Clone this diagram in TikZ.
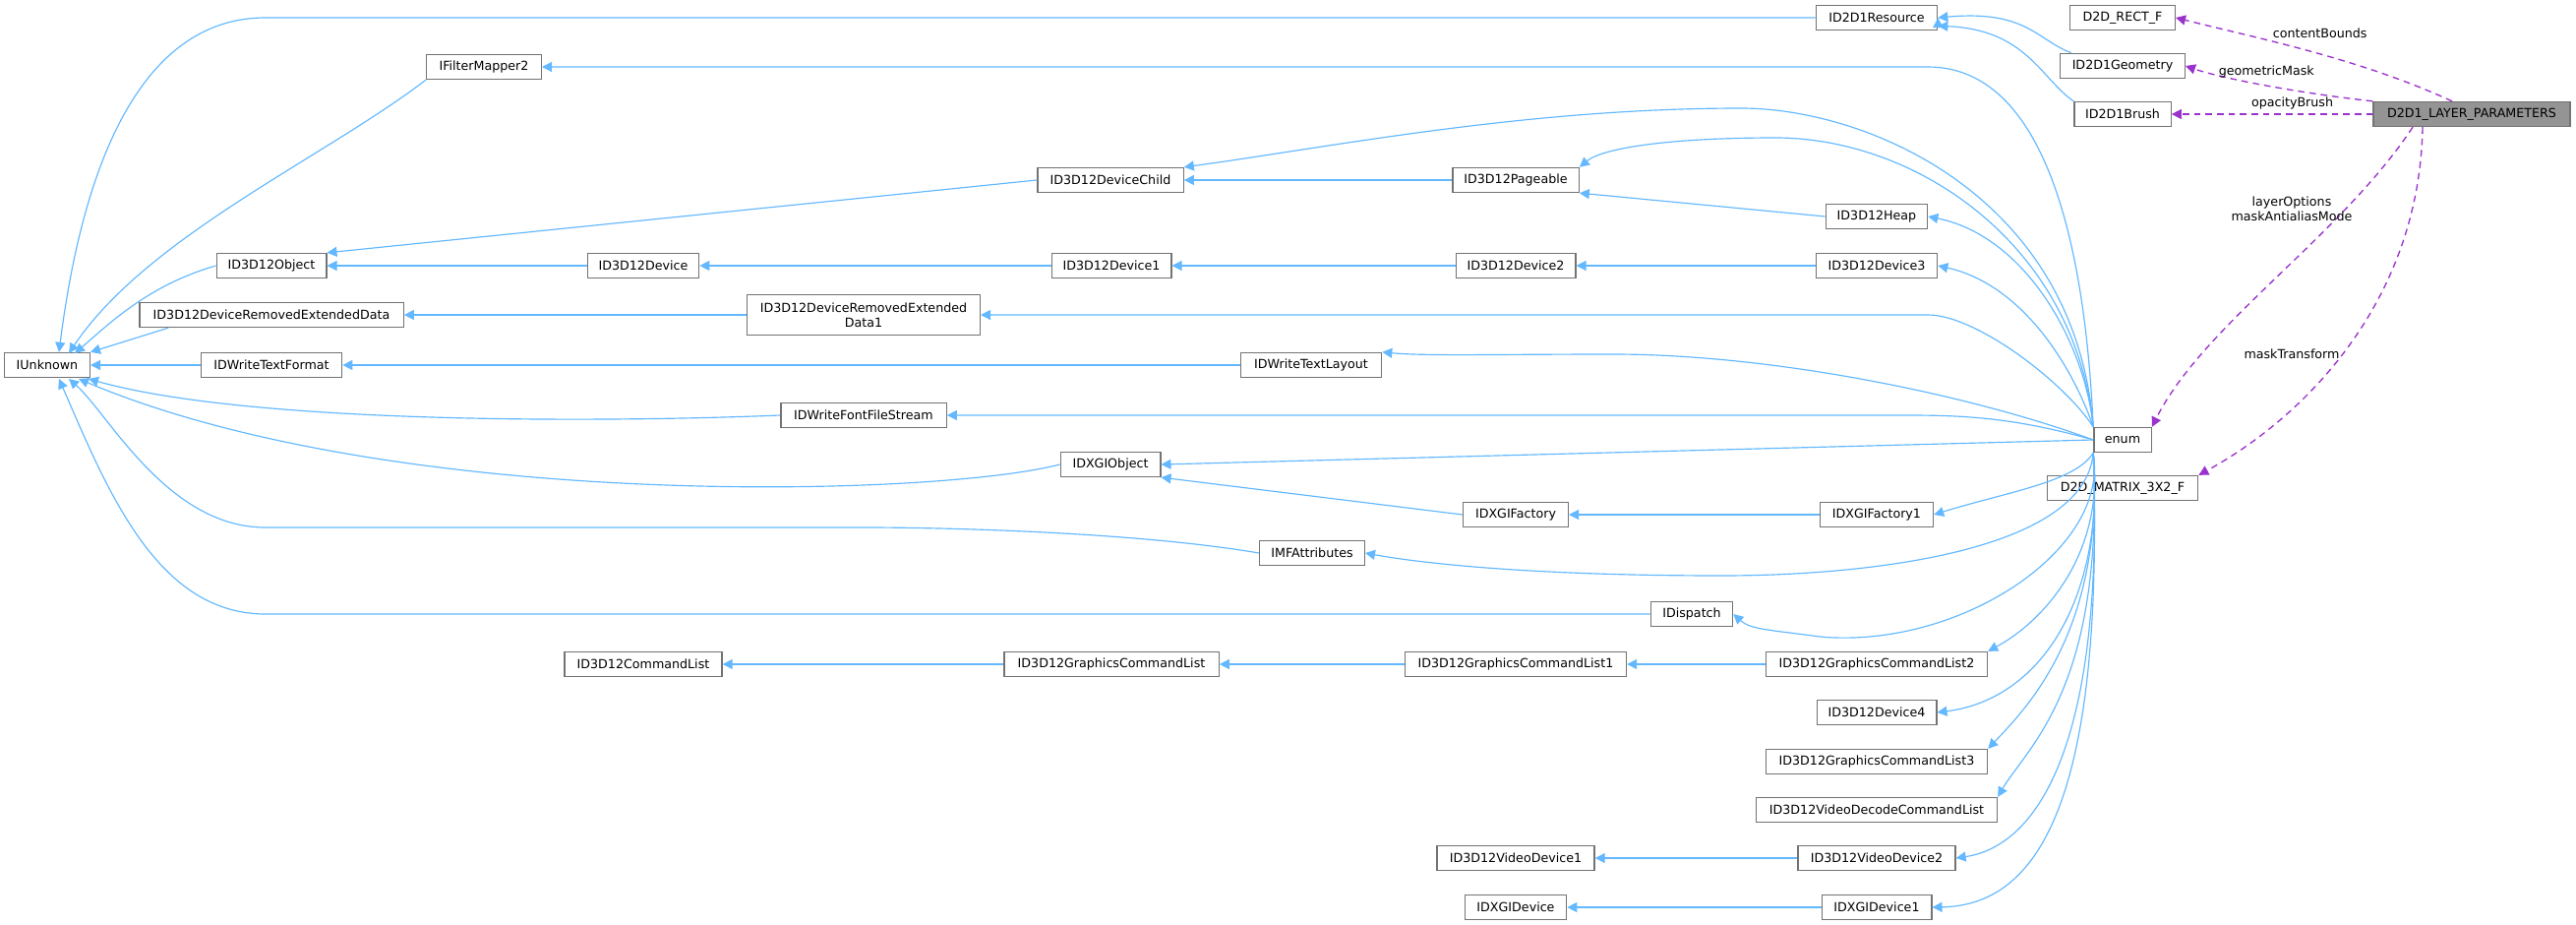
\documentclass[tikz,border=0pt]{standalone}
\usepackage{fontspec}
\setmainfont{DejaVu Sans}
\usetikzlibrary{arrows.meta}
\definecolor{inh}{HTML}{63B8FF}
\definecolor{usg}{HTML}{9A32CD}
\begin{document}
\begin{tikzpicture}[x=0.6pt,y=-0.6pt,
  box/.style={draw=black!55,line width=0.8pt,fill=white,minimum height=15pt,inner sep=1pt,font=\fontsize{7.6}{9}\selectfont,align=center},
  e/.style={draw=inh,line width=0.7pt,-{Triangle[length=6pt,width=6pt]}},
  u/.style={draw=usg,line width=0.8pt,dash pattern=on 4pt off 3pt,-{Triangle[length=6pt,width=6pt]}},
  lab/.style={font=\fontsize{7.6}{9}\selectfont,align=center}]
\useasboundingbox (0,0) rectangle (2619,940);
% nodes
\node[box,minimum width=52pt] (iunk) at (48,371) {IUnknown};
\node[box,minimum width=70pt] (ifm) at (492,68) {IFilterMapper2};
\node[box,minimum width=89pt] (dchild) at (1129,183) {ID3D12DeviceChild};
\node[box,minimum width=67pt] (obj) at (276,270) {ID3D12Object};
\node[box,minimum width=68pt] (dev) at (654,270) {ID3D12Device};
\node[box,minimum width=73pt] (dev1) at (1130,270) {ID3D12Device1};
\node[box,minimum width=161pt] (dred) at (276,320) {ID3D12DeviceRemovedExtendedData};
\node[box,minimum width=142pt,minimum height=24.5pt] (dred1) at (878,320) {ID3D12DeviceRemovedExtended\\Data1};
\node[box,minimum width=86pt] (wtf) at (276,371) {IDWriteTextFormat};
\node[box,minimum width=86pt] (wtl) at (1333,371) {IDWriteTextLayout};
\node[box,minimum width=101pt] (wffs) at (878,422) {IDWriteFontFileStream};
\node[box,minimum width=61pt] (dxo) at (1129,472) {IDXGIObject};
\node[box,minimum width=64pt] (mfa) at (1334,562) {IMFAttributes};
\node[box,minimum width=50pt] (disp) at (1720,624) {IDispatch};
\node[box,minimum width=64pt] (dxf) at (1541,523) {IDXGIFactory};
\node[box,minimum width=69pt] (dxf1) at (1908,523) {IDXGIFactory1};
\node[box,minimum width=96pt] (cl) at (654,675) {ID3D12CommandList};
\node[box,minimum width=131pt] (gcl) at (1130,675) {ID3D12GraphicsCommandList};
\node[box,minimum width=135pt] (gcl1) at (1541,675) {ID3D12GraphicsCommandList1};
\node[box,minimum width=135pt] (gcl2) at (1908,675) {ID3D12GraphicsCommandList2};
\node[box,minimum width=73pt] (dev4) at (1908,724) {ID3D12Device4};
\node[box,minimum width=135pt] (gcl3) at (1908,774) {ID3D12GraphicsCommandList3};
\node[box,minimum width=147pt] (vdcl) at (1908,823) {ID3D12VideoDecodeCommandList};
\node[box,minimum width=96pt] (vd1) at (1541,872) {ID3D12VideoDevice1};
\node[box,minimum width=96pt] (vd2) at (1908,872) {ID3D12VideoDevice2};
\node[box,minimum width=62pt] (dxd) at (1541,922) {IDXGIDevice};
\node[box,minimum width=67pt] (dxd1) at (1908,922) {IDXGIDevice1};
\node[box,minimum width=92pt] (mat) at (2158,496) {D2D\_MATRIX\_3X2\_F};
\node[box,minimum width=35pt] (enum) at (2158,447) {enum};
\node[box,minimum width=74pt] (res) at (1908,18) {ID2D1Resource};
\node[box,minimum width=64pt] (rect) at (2158,18) {D2D\_RECT\_F};
\node[box,minimum width=76pt] (geo) at (2158,67) {ID2D1Geometry};
\node[box,minimum width=59pt] (brush) at (2158,116) {ID2D1Brush};
\node[box,minimum width=120pt,fill=black!42] (lp) at (2513,116) {D2D1\_LAYER\_PARAMETERS};
\node[box,minimum width=77pt] (page) at (1541,183) {ID3D12Pageable};
\node[box,minimum width=62pt] (heap) at (1908,220) {ID3D12Heap};
\node[box,minimum width=73pt] (dev2) at (1541,270) {ID3D12Device2};
\node[box,minimum width=74pt] (dev3) at (1908,270) {ID3D12Device3};
% inheritance to IUnknown
\draw[e] (res.west) -- (270,18) .. controls (130,18) and (80,200) .. (iunk.north west -| 60,0) ;
\draw[e] (ifm.south west) .. controls (330,160) and (150,240) .. (70,359);
\draw[e] (obj.west) .. controls (150,290) and (110,330) .. (76,359);
\draw[e] (dred.south west) ++(30,0) -- (iunk.north east);
\draw[e] (wtf) -- (iunk);
\draw[e] (wffs.west) .. controls (600,430) and (250,430) .. (90,385);
\draw[e] (dxo.west) .. controls (950,505) and (400,520) .. (80,385);
\draw[e] (mfa.west) .. controls (1150,540) and (950,536) .. (880,536) -- (270,536) .. controls (170,536) and (110,420) .. (70,385);
\draw[e] (disp.west) -- (270,624) .. controls (160,624) and (110,500) .. (60,385);
% chains
\draw[e] (dchild.west) -- (obj.north east);
\draw[e] (dev) -- (obj);
\draw[e] (dev1) -- (dev);
\draw[e] (dev2) -- (dev1);
\draw[e] (dev3) -- (dev2);
\draw[e] (page) -- (dchild);
\draw[e] (heap.west) -- (page.south east);
\draw[e] (dred1) -- (dred);
\draw[e] (wtl) -- (wtf);
\draw[e] (res.east) ++(0,0) coordinate (r0);
\draw[e] (geo.north west) ++(12,0) .. controls (2070,40) and (2060,10) .. (res.east);
\draw[e] (brush.north west) ++(0,0) .. controls (2075,80) and (2060,30) .. ([yshift=-5pt]res.east);
\draw[e] (dxf.west) -- (dxo.south east);
\draw[e] (dxf1) -- (dxf);
\draw[e] (gcl) -- (cl);
\draw[e] (gcl1) -- (gcl);
\draw[e] (gcl2) -- (gcl1);
\draw[e] (vd2) -- (vd1);
\draw[e] (dxd1) -- (dxd);
% from enum
\draw[e] (enum.north west) .. controls (2120,250) and (2080,68) .. (1960,68) -- (ifm.east);
\draw[e] (enum.north west) .. controls (2110,200) and (1900,110) .. (1770,110) .. controls (1550,110) and (1350,150) .. (dchild.north east);
\draw[e] (enum.north west) .. controls (2110,250) and (1950,140) .. (1805,140) .. controls (1700,140) and (1630,150) .. (page.north east);
\draw[e] (enum.north west) .. controls (2120,350) and (2060,240) .. (heap.east);
\draw[e] (enum.north west) .. controls (2110,380) and (2060,290) .. (dev3.east);
\draw[e] (enum.north west) .. controls (2100,390) and (2010,320) .. (1960,320) -- (dred1.east);
\draw[e] (enum.west) .. controls (2000,400) and (1800,360) .. (1640,360) .. controls (1520,360) and (1450,362) .. (wtl.north east);
\draw[e] (enum.west) .. controls (2050,425) and (2000,422) .. (1940,422) -- (wffs.east);
\draw[e] (enum.west) -- (dxo.east);
\draw[e] (enum.south west) .. controls (2110,490) and (2040,500) .. (dxf1.east);
\draw[e] (enum.south west) .. controls (2120,560) and (1900,585) .. (1750,585) .. controls (1580,585) and (1460,575) .. (mfa.east);
\draw[e] (enum.south west) .. controls (2145,560) and (1990,660) .. (1850,647) .. controls (1800,640) and (1780,640) .. (disp.east);
\draw[e] (enum.south west) .. controls (2140,560) and (2080,630) .. (gcl2.north east);
\draw[e] (enum.south west) .. controls (2140,600) and (2080,710) .. (dev4.east);
\draw[e] (enum.south west) .. controls (2140,640) and (2060,720) .. (gcl3.north east);
\draw[e] (enum.south west) .. controls (2140,700) and (2060,760) .. (vdcl.north east);
\draw[e] (enum.south west) .. controls (2140,760) and (2070,860) .. (vd2.east);
\draw[e] (enum.south west) .. controls (2140,820) and (2070,920) .. (dxd1.east);
% usage
\draw[u] (lp.north) ++(-20,0) .. controls (2400,60) and (2300,40) .. (rect.east) node[lab,pos=0.65,above right=-2pt] {contentBounds};
\draw[u] (lp.north west) .. controls (2340,95) and (2260,80) .. (geo.east) node[lab,pos=0.5,above=1pt] {geometricMask};
\draw[u] (lp) -- (brush) node[lab,pos=0.4,above=-1pt] {opacityBrush};
\draw[u] (lp.south) ++(-60,0) .. controls (2380,240) and (2240,330) .. (enum.north east);
\node[lab] (l4) at (2330,212) {layerOptions\\maskAntialiasMode};
\draw[u] (lp.south) ++(-50,0) .. controls (2460,300) and (2350,420) .. (mat.north east);
\node[lab] (l5) at (2330,360) {maskTransform};
\end{tikzpicture}
\end{document}
